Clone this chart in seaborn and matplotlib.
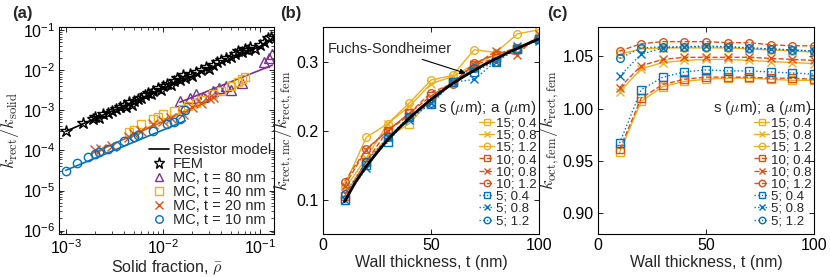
import matplotlib
matplotlib.use('Agg')
import matplotlib.pyplot as plt
import seaborn as sns

sns.set_style('ticks')
plt.rcParams['font.family'] = ['Liberation Sans', 'DejaVu Sans']
plt.rcParams['mathtext.fontset'] = 'custom'
plt.rcParams['mathtext.rm'] = 'Liberation Sans'
plt.rcParams['mathtext.it'] = 'Liberation Sans:italic'
plt.rcParams['mathtext.bf'] = 'Liberation Sans:bold'

BLUE = '#0072BD'
ORANGE = '#D95319'
YELLOW = '#EDB120'
PURPLE = '#7E2F8E'

# ---- panel (a) data ----
fem_rho = [0.001, 0.0015, 0.0019, 0.002, 0.0022, 0.0024, 0.0027, 0.003, 0.0033,
           0.0036, 0.004, 0.0042, 0.0045, 0.0048, 0.005, 0.0055, 0.006, 0.0065,
           0.007, 0.0075, 0.008, 0.009, 0.0095, 0.01, 0.011, 0.012, 0.013, 0.014,
           0.015, 0.016, 0.017, 0.019, 0.02, 0.022, 0.025, 0.028, 0.03, 0.033,
           0.036, 0.04, 0.045, 0.05, 0.055, 0.06, 0.065, 0.07, 0.075, 0.08, 0.09,
           0.1, 0.11, 0.12, 0.13]
fem_k = [3.1e-4, 4.8e-4, 6.0e-4, 7.0e-4, 6.5e-4, 8.0e-4, 8.5e-4, 9.5e-4, 1.1e-3,
         1.2e-3, 1.4e-3, 1.2e-3, 1.6e-3, 1.4e-3, 1.7e-3, 1.9e-3, 2.1e-3, 2.4e-3,
         2.8e-3, 2.6e-3, 3.0e-3, 3.6e-3, 3.3e-3, 4.0e-3, 4.5e-3, 4.2e-3, 5.5e-3,
         6.5e-3, 5.8e-3, 7.5e-3, 6.5e-3, 8.0e-3, 7.2e-3, 9.0e-3, 1.0e-2, 1.2e-2,
         1.1e-2, 1.4e-2, 1.6e-2, 1.8e-2, 2.0e-2, 2.2e-2, 2.6e-2, 3.0e-2, 2.8e-2,
         3.5e-2, 3.2e-2, 3.8e-2, 3.5e-2, 4.2e-2, 5.0e-2, 6.5e-2, 7.0e-2]

mc80_rho = [0.015, 0.019, 0.022, 0.026, 0.033, 0.038, 0.045, 0.05, 0.065, 0.11, 0.125, 0.135]
mc80_k = [1.7e-3, 2.1e-3, 2.6e-3, 2.2e-3, 3.0e-3, 3.6e-3, 4.0e-3, 3.3e-3, 4.8e-3, 1.6e-2, 2.0e-2, 2.5e-2]

mc40_rho = [0.0045, 0.005, 0.006, 0.008, 0.009, 0.01, 0.013, 0.016, 0.018, 0.022,
            0.025, 0.033, 0.04, 0.05, 0.06, 0.065, 0.07]
mc40_k = [2.9e-4, 3.2e-4, 4.5e-4, 6.0e-4, 7.0e-4, 8.0e-4, 9.5e-4, 1.1e-3, 1.3e-3,
          1.5e-3, 1.8e-3, 2.5e-3, 3.0e-3, 4.0e-3, 5.0e-3, 6.0e-3, 7.0e-3]

mc20_rho = [0.002, 0.0023, 0.003, 0.0045, 0.005, 0.006, 0.008, 0.01, 0.012, 0.016,
            0.02, 0.025, 0.03, 0.033]
mc20_k = [1.0e-4, 1.1e-4, 1.3e-4, 2.2e-4, 2.6e-4, 3.0e-4, 4.5e-4, 5.5e-4, 6.5e-4,
          8.0e-4, 1.2e-3, 1.5e-3, 2.0e-3, 2.2e-3]

mc10_rho = [0.001, 0.0013, 0.0017, 0.002, 0.0022, 0.0027, 0.0033, 0.004, 0.005,
            0.0055, 0.008, 0.011, 0.013, 0.015, 0.017]
mc10_k = [3.0e-5, 5.0e-5, 7.0e-5, 8.0e-5, 9.0e-5, 1.1e-4, 1.3e-4, 1.7e-4, 2.2e-4,
          2.5e-4, 3.0e-4, 4.5e-4, 5.0e-4, 6.0e-4, 1.0e-3]

# resistor model, straight lines on log-log (end points)
res_fem_rho, res_fem_k = [0.001, 0.12], [3.0e-4, 4.8e-2]
res80_rho, res80_k = [0.015, 0.135], [1.6e-3, 1.35e-2]
res40_rho, res40_k = [0.0045, 0.07], [2.3e-4, 4.7e-3]
res20_rho, res20_k = [0.002, 0.035], [9.0e-5, 2.1e-3]
res10_rho, res10_k = [0.001, 0.017], [3.2e-5, 5.5e-4]

# ---- panels (b), (c) data ----
t = [10, 20, 30, 40, 50, 60, 70, 80, 90, 100]
series_labels = ['15; 0.4', '15; 0.8', '15; 1.2', '10; 0.4', '10; 0.8', '10; 1.2',
                 '5; 0.4', '5; 0.8', '5; 1.2']

mc_15_04 = [0.100, 0.155, 0.190, 0.210, 0.245, 0.270, 0.290, 0.305, 0.320, 0.333]
mc_15_08 = [0.115, 0.160, 0.210, 0.235, 0.268, 0.278, 0.296, 0.310, 0.320, 0.335]
mc_15_12 = [0.120, 0.190, 0.210, 0.240, 0.273, 0.280, 0.317, 0.313, 0.340, 0.346]
mc_10_04 = [0.105, 0.155, 0.200, 0.225, 0.250, 0.270, 0.295, 0.305, 0.318, 0.332]
mc_10_08 = [0.120, 0.172, 0.200, 0.222, 0.240, 0.270, 0.295, 0.315, 0.310, 0.340]
mc_10_12 = [0.126, 0.173, 0.200, 0.225, 0.255, 0.268, 0.298, 0.310, 0.320, 0.333]
mc_5_04 = [0.100, 0.150, 0.183, 0.220, 0.238, 0.270, 0.285, 0.300, 0.318, 0.332]
mc_5_08 = [0.100, 0.145, 0.190, 0.215, 0.240, 0.270, 0.274, 0.300, 0.322, 0.330]
mc_5_12 = [0.108, 0.155, 0.190, 0.220, 0.240, 0.270, 0.290, 0.300, 0.318, 0.333]

fs_t = [10, 15, 20, 25, 30, 35, 40, 45, 50, 55, 60, 65, 70, 75, 80, 85, 90, 95, 100]
fs_k = [0.097, 0.125, 0.148, 0.168, 0.187, 0.203, 0.218, 0.232, 0.245, 0.257,
        0.268, 0.278, 0.287, 0.296, 0.304, 0.312, 0.319, 0.326, 0.333]

oct_15_04 = [0.958, 1.007, 1.021, 1.026, 1.028, 1.029, 1.029, 1.028, 1.027, 1.027]
oct_15_08 = [1.016, 1.038, 1.044, 1.046, 1.047, 1.047, 1.046, 1.045, 1.044, 1.043]
oct_15_12 = [1.052, 1.057, 1.058, 1.058, 1.058, 1.058, 1.057, 1.056, 1.055, 1.054]
oct_10_04 = [0.961, 1.010, 1.023, 1.028, 1.030, 1.030, 1.030, 1.029, 1.029, 1.028]
oct_10_08 = [1.020, 1.041, 1.047, 1.049, 1.049, 1.049, 1.049, 1.048, 1.047, 1.046]
oct_10_12 = [1.055, 1.062, 1.064, 1.064, 1.064, 1.063, 1.063, 1.061, 1.060, 1.060]
oct_5_04 = [0.967, 1.018, 1.030, 1.035, 1.037, 1.036, 1.036, 1.035, 1.034, 1.033]
oct_5_08 = [1.031, 1.052, 1.058, 1.059, 1.060, 1.059, 1.058, 1.057, 1.056, 1.055]
oct_5_12 = [1.048, 1.058, 1.059, 1.059, 1.059, 1.059, 1.058, 1.057, 1.056, 1.055]

mc_series = [mc_15_04, mc_15_08, mc_15_12, mc_10_04, mc_10_08, mc_10_12, mc_5_04, mc_5_08, mc_5_12]
oct_series = [oct_15_04, oct_15_08, oct_15_12, oct_10_04, oct_10_08, oct_10_12, oct_5_04, oct_5_08, oct_5_12]
styles = [(YELLOW, '-', 's'), (YELLOW, '-', 'x'), (YELLOW, '-', 'o'),
          (ORANGE, '--', 's'), (ORANGE, '--', 'x'), (ORANGE, '--', 'o'),
          (BLUE, ':', 's'), (BLUE, ':', 'x'), (BLUE, ':', 'o')]

TICK_FS = 11.5
LABEL_FS = 11.5
LEG_FS = 9.5
YLAB_FS = 13


def style_axes(ax):
    for sp in ax.spines.values():
        sp.set_visible(True)
        sp.set_color('k')
        sp.set_linewidth(0.8)
    ax.tick_params(which='both', direction='in', top=True, right=True,
                   labelsize=TICK_FS, colors='k', pad=3)
    ax.tick_params(which='major', length=3.5, width=0.6)
    ax.tick_params(which='minor', length=2, width=0.5)


def draw(ax, x, y, color, ls, marker, ms=5, lw=1.0, label=None):
    sns.lineplot(x=x, y=y, ax=ax, color=color, linestyle=ls, marker=marker,
                 markersize=ms, markerfacecolor='none', markeredgecolor=color,
                 markeredgewidth=1.0, linewidth=lw, estimator=None, label=label,
                 legend=False)
    return ax.lines[-1]


def series_legend(ax, handles):
    leg = ax.legend(handles, series_labels, title=r's ($\mu$m); a ($\mu$m)',
                    loc='lower right', bbox_to_anchor=(1.0, 0.02), frameon=False,
                    fontsize=LEG_FS, title_fontsize=LEG_FS + 1.5, labelspacing=0.0,
                    handlelength=1.1, handletextpad=0.15, borderpad=0,
                    borderaxespad=0.2, alignment='right', markerscale=0.85)
    leg.get_title().set_math_fontfamily('cm')
    return leg


fig = plt.figure(figsize=(8.3, 2.77), dpi=100)
ax_a = fig.add_axes([59 / 830, 43 / 277, 215 / 830, 207 / 277])
ax_b = fig.add_axes([323 / 830, 43 / 277, 216 / 830, 207 / 277])
ax_c = fig.add_axes([598 / 830, 43 / 277, 216 / 830, 207 / 277])

# ---- (a) ----
ax = ax_a
ax.set_xscale('log')
ax.set_yscale('log')
h_res = draw(ax, res_fem_rho, res_fem_k, 'k', '-', None, lw=1.2)
for rx, ry, c in [(res80_rho, res80_k, PURPLE), (res40_rho, res40_k, YELLOW),
                  (res20_rho, res20_k, ORANGE), (res10_rho, res10_k, BLUE)]:
    draw(ax, rx, ry, c, '-', None, lw=1.2)
h_fem = draw(ax, fem_rho, fem_k, 'k', '', '*', ms=9)
h80 = draw(ax, mc80_rho, mc80_k, PURPLE, '', '^', ms=6.5)
h40 = draw(ax, mc40_rho, mc40_k, YELLOW, '', 's', ms=6)
h20 = draw(ax, mc20_rho, mc20_k, ORANGE, '', 'x', ms=6.5)
h10 = draw(ax, mc10_rho, mc10_k, BLUE, '', 'o', ms=6)
ax.set_xlim(8.5e-4, 0.14)
ax.set_ylim(8.2e-7, 0.121)
ax.set_xlabel(r'Solid fraction, $\bar{\rho}$', fontsize=LABEL_FS, math_fontfamily='cm', labelpad=1)
ax.set_ylabel(r'$k_{\rm rect}/k_{\rm solid}$', fontsize=YLAB_FS, math_fontfamily='cm', labelpad=1)
style_axes(ax)
ax.legend([h_res, h_fem, h80, h40, h20, h10],
          ['Resistor model', 'FEM', 'MC, t = 80 nm', 'MC, t = 40 nm',
           'MC, t = 20 nm', 'MC, t = 10 nm'],
          loc='lower right', bbox_to_anchor=(1.0, 0.02), frameon=False,
          fontsize=10.5, labelspacing=0.0, handlelength=1.4,
          handletextpad=0.25, borderpad=0, borderaxespad=0.2, markerscale=0.9)

# ---- (b) ----
ax = ax_b
handles = []
for vals, (c, ls, m) in zip(mc_series, styles):
    handles.append(draw(ax, t, vals, c, ls, m, ms=5.5))
sns.lineplot(x=fs_t, y=fs_k, ax=ax, color='k', linewidth=2.0, estimator=None, legend=False)
ax.annotate('Fuchs-Sondheimer', xy=(66, 0.283), xytext=(31, 0.318),
            ha='center', va='center', fontsize=10.5,
            arrowprops=dict(arrowstyle='-|>', color='k', lw=0.8, mutation_scale=8,
                            shrinkA=0, shrinkB=0))
ax.set_xlim(0, 100)
ax.set_ylim(0.05, 0.35)
ax.set_xticks([0, 50, 100])
ax.set_yticks([0.1, 0.2, 0.3])
ax.set_xlabel('Wall thickness, t (nm)', fontsize=LABEL_FS, labelpad=1)
ax.set_ylabel(r'$k_{\rm rect,mc}/k_{\rm rect,fem}$', fontsize=YLAB_FS, math_fontfamily='cm', labelpad=1)
style_axes(ax)
series_legend(ax, handles)

# ---- (c) ----
ax = ax_c
handles = []
for vals, (c, ls, m) in zip(oct_series, styles):
    handles.append(draw(ax, t, vals, c, ls, m, ms=5.5))
ax.set_xlim(0, 100)
ax.set_ylim(0.88, 1.078)
ax.set_xticks([0, 50, 100])
ax.set_yticks([0.90, 0.95, 1.00, 1.05])
ax.set_yticklabels(['0.90', '0.95', '1.00', '1.05'])
ax.set_xlabel('Wall thickness, t (nm)', fontsize=LABEL_FS, labelpad=1)
ax.set_ylabel(r'$k_{\rm oct,fem}/k_{\rm rect,fem}$', fontsize=YLAB_FS, math_fontfamily='cm', labelpad=1)
style_axes(ax)
series_legend(ax, handles)

for txt, px in [('(a)', 12), ('(b)', 280), ('(c)', 547)]:
    fig.text(px / 830, 1 - 6 / 277, txt, fontsize=12, fontweight='bold', ha='left', va='top')

fig.savefig('out.png', dpi=100)
